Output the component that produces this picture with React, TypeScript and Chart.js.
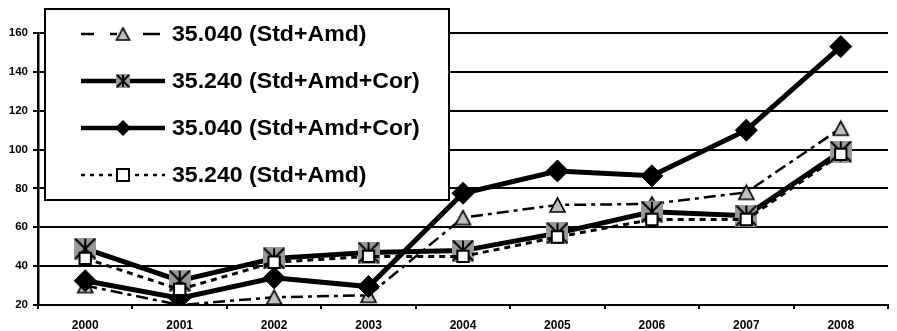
import React, { useEffect, useRef } from 'react';
import { Chart, registerables } from 'chart.js';

Chart.register(...registerables);

const years = ['2000', '2001', '2002', '2003', '2004', '2005', '2006', '2007', '2008'];
const s35040StdAmd = [30, 20, 24, 25, 65, 71.5, 72, 78, 111];
const s35240StdAmdCor = [49, 32.5, 44, 47, 48, 57, 68, 66, 99];
const s35040StdAmdCor = [32.5, 23.5, 34, 29.5, 77.5, 89, 86.5, 110, 153];
const s35240StdAmd = [44, 28, 42, 45, 45, 55, 64, 64, 97.5];
const seriesNames = ['35.040 (Std+Amd)', '35.240 (Std+Amd+Cor)', '35.040 (Std+Amd+Cor)', '35.240 (Std+Amd)'];
const yMin = 20;
const yMax = 160;
const yStep = 20;

const FONT = '"Liberation Sans", Arial, sans-serif';

function makeTriangle(w: number, h: number): HTMLCanvasElement {
  const c = document.createElement('canvas');
  c.width = w + 4;
  c.height = h + 4;
  const ctx = c.getContext('2d')!;
  ctx.beginPath();
  ctx.moveTo(c.width / 2, 2);
  ctx.lineTo(c.width - 2, c.height - 2);
  ctx.lineTo(2, c.height - 2);
  ctx.closePath();
  ctx.fillStyle = '#c0c0c0';
  ctx.fill();
  ctx.lineWidth = 1.6;
  ctx.strokeStyle = '#000';
  ctx.stroke();
  return c;
}

function makeStarSquare(size: number): HTMLCanvasElement {
  const c = document.createElement('canvas');
  c.width = size;
  c.height = size;
  const ctx = c.getContext('2d')!;
  ctx.fillStyle = '#999999';
  ctx.fillRect(0, 0, size, size);
  ctx.strokeStyle = '#000';
  ctx.lineWidth = 2;
  ctx.beginPath();
  ctx.moveTo(1, 1);
  ctx.lineTo(size - 1, size - 1);
  ctx.moveTo(size - 1, 1);
  ctx.lineTo(1, size - 1);
  ctx.moveTo(size / 2, 1);
  ctx.lineTo(size / 2, size - 1);
  ctx.stroke();
  return c;
}

export default function App() {
  const ref = useRef<HTMLCanvasElement | null>(null);

  useEffect(() => {
    document.body.style.margin = '0';
    const canvas = ref.current!;
    const tri = makeTriangle(15, 14);
    const star = makeStarSquare(22);
    const triLeg = makeTriangle(13, 12);
    const starLeg = makeStarSquare(14);

    const legendPlugin = {
      id: 'customLegend',
      beforeDatasetsDraw(chart: any) {
        const ctx = chart.ctx as CanvasRenderingContext2D;
        ctx.save();
        ctx.fillStyle = '#fff';
        ctx.fillRect(45, 9, 404, 191);
        ctx.lineWidth = 2;
        ctx.strokeStyle = '#000';
        ctx.strokeRect(45, 9, 404, 191);
        const rows = [34, 81, 128, 175];
        const mx = 123;
        // Row A
        let y = rows[0];
        ctx.lineWidth = 2.5;
        ctx.beginPath();
        ctx.moveTo(81, y); ctx.lineTo(94, y);
        ctx.moveTo(110, y); ctx.lineTo(117, y);
        ctx.moveTo(143, y); ctx.lineTo(160, y);
        ctx.stroke();
        ctx.drawImage(triLeg, mx - triLeg.width / 2, y - triLeg.height / 2);
        // Row B
        y = rows[1];
        ctx.lineWidth = 4.5;
        ctx.beginPath();
        ctx.moveTo(81, y); ctx.lineTo(165, y);
        ctx.stroke();
        ctx.drawImage(starLeg, mx - starLeg.width / 2, y - starLeg.height / 2);
        // Row C
        y = rows[2];
        ctx.beginPath();
        ctx.moveTo(81, y); ctx.lineTo(165, y);
        ctx.stroke();
        ctx.fillStyle = '#000';
        ctx.beginPath();
        ctx.moveTo(mx, y - 8); ctx.lineTo(mx + 8, y); ctx.lineTo(mx, y + 8); ctx.lineTo(mx - 8, y);
        ctx.closePath();
        ctx.fill();
        // Row D
        y = rows[3];
        ctx.lineWidth = 2.5;
        ctx.setLineDash([4, 5]);
        ctx.beginPath();
        ctx.moveTo(81, y); ctx.lineTo(165, y);
        ctx.stroke();
        ctx.setLineDash([]);
        ctx.fillStyle = '#fff';
        ctx.fillRect(mx - 6, y - 6, 12, 12);
        ctx.lineWidth = 2;
        ctx.strokeRect(mx - 6, y - 6, 12, 12);
        // Text
        ctx.fillStyle = '#000';
        ctx.font = 'bold 22px ' + FONT;
        ctx.textBaseline = 'middle';
        ctx.textAlign = 'left';
        seriesNames.forEach((name, i) => {
          ctx.save();
          ctx.translate(172, rows[i] + 1);
          ctx.scale(1.05, 1);
          ctx.fillText(name, 0, 0);
          ctx.restore();
        });
        ctx.restore();
      },
    };

    const chart = new Chart(canvas, {
      type: 'line',
      data: {
        labels: years,
        datasets: [
          {
            label: seriesNames[0],
            data: s35040StdAmd,
            borderColor: '#000',
            borderWidth: 2.5,
            borderDash: [12, 5, 4, 5],
            pointStyle: tri as any,
            pointRadius: 8,
            tension: 0,
            order: 4,
          },
          {
            label: seriesNames[1],
            data: s35240StdAmdCor,
            borderColor: '#000',
            borderWidth: 5,
            pointStyle: star as any,
            pointRadius: 11,
            tension: 0,
            order: 3,
          },
          {
            label: seriesNames[2],
            data: s35040StdAmdCor,
            borderColor: '#000',
            borderWidth: 5,
            pointStyle: 'rectRot',
            pointRadius: 11,
            pointBackgroundColor: '#000',
            pointBorderColor: '#000',
            pointBorderWidth: 1,
            tension: 0,
            order: 2,
          },
          {
            label: seriesNames[3],
            data: s35240StdAmd,
            borderColor: '#000',
            borderWidth: 3,
            borderDash: [6, 5],
            pointStyle: 'rect',
            pointRadius: 8,
            pointBackgroundColor: '#fff',
            pointBorderColor: '#000',
            pointBorderWidth: 2,
            tension: 0,
            order: 1,
          },
        ],
      },
      options: {
        responsive: false,
        maintainAspectRatio: false,
        animation: false,
        events: [],
        layout: { padding: { top: 33, left: 0, right: 0, bottom: 0 } },
        plugins: {
          legend: { display: false },
          tooltip: { enabled: false },
        },
        scales: {
          x: {
            offset: true,
            grid: {
              offset: true,
              drawOnChartArea: false,
              drawTicks: true,
              tickLength: 4,
              color: '#000',
              lineWidth: 2,
            },
            border: { display: true, color: '#000', width: 2 },
            ticks: {
              color: '#000',
              font: { family: FONT, size: 12, weight: 'bold' },
              padding: 9,
              maxRotation: 0,
              autoSkip: false,
            },
            afterFit(scale: any) {
              scale.height = 26;
            },
          },
          y: {
            min: yMin,
            max: yMax,
            grid: {
              color: '#000',
              lineWidth: 2,
              drawTicks: true,
              tickLength: 5,
            },
            border: { display: true, color: '#000', width: 2.5 },
            ticks: {
              stepSize: yStep,
              color: '#000',
              font: { family: FONT, size: 11.5, weight: 'bold' },
              padding: 5,
            },
            afterFit(scale: any) {
              scale.width = 38;
            },
          },
        },
      },
      plugins: [legendPlugin],
    });
    return () => chart.destroy();
  }, []);

  return (
    <div style={{ width: 897, height: 331, overflow: 'hidden', position: 'relative', background: '#fff' }}>
      <canvas ref={ref} width={904} height={331} style={{ display: 'block' }} />
    </div>
  );
}
